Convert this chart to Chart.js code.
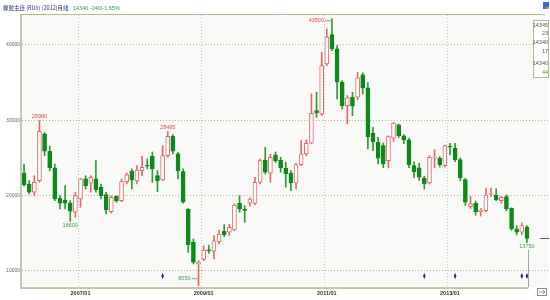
<!DOCTYPE html>
<html>
<head>
<meta charset="utf-8">
<script src="https://cdn.jsdelivr.net/npm/chart.js@4.4.1/dist/chart.umd.min.js"></script>
<style>
  html, body { margin: 0; padding: 0; background: #fff; }
  canvas { display: block; }
</style>
</head>
<body>
<canvas id="kChart" width="550" height="300"></canvas>
<script>
// monthly bars, 2006/02 .. 2014/04
const months = [];
let yy = 2006, mm = 2;
while (months.length < 99) {
    months.push(yy + '/' + (mm < 10 ? '0' : '') + mm);
    mm++;
    if (mm > 12) { mm = 1; yy++; }
}

const opens = [
    23000, 21550, 20450, 21990, 28200, 25900, 23700, 19650, 19430, 19000,
    17800, 19560, 22220, 21650, 22220, 21120, 20130, 17880, 19920, 19340,
    21860, 23280, 21950, 23320, 24000, 25210, 22650, 22090, 25310, 27890,
    25540, 23190, 18230, 13810, 10930, 11550, 12800, 12620, 13890, 15270,
    15140, 15445, 18990, 18150, 18990, 18990, 21780, 24740, 22980, 25400,
    24740, 23630, 22980, 21650, 24120, 25540, 26960, 31290, 30850, 37490,
    41380, 39480, 35060, 31950, 33070, 33070, 36030, 34300, 28290, 27090,
    26640, 24650, 27620, 29390, 27930, 27400, 23980, 23680, 22310, 21690,
    24970, 24970, 23980, 26560, 26290, 24780, 22120, 18540, 18990, 17880,
    18000, 20150, 20090, 19340, 19870, 18330, 15580, 15140, 15800
];
const highs = [
    24200, 22000, 22650, 29980, 28400, 26600, 24200, 20000, 21330, 19340,
    20450, 22310, 22650, 22650, 24650, 21550, 20450, 20000, 20000, 22220,
    23020, 23550, 23980, 25230, 24870, 25800, 23320, 26640, 28495, 28100,
    25760, 23550, 18300, 14250, 11370, 13360, 13430, 14690, 15440, 16150,
    16200, 18900, 20000, 18670, 19700, 22440, 24870, 26430, 25540, 25800,
    25100, 24430, 23320, 24300, 27300, 27400, 33500, 33730, 39040, 42140,
    43500, 39920, 35270, 33280, 33730, 36390, 36300, 35000, 29080, 27760,
    27000, 27950, 29700, 29500, 28100, 27600, 24500, 24300, 22600, 25300,
    26100, 25200, 26700, 26960, 26960, 25000, 22300, 19900, 19300, 18300,
    21000, 21000, 20900, 19900, 20100, 18400, 16000, 16400, 16020
];
const lows = [
    21250, 20230, 20000, 21780, 25300, 23300, 19340, 18230, 18230, 16600,
    17130, 18460, 20890, 20450, 20450, 19560, 17570, 17700, 19120, 19200,
    21550, 20890, 21550, 22650, 23550, 21780, 20530, 21990, 25100, 25540,
    22220, 19000, 12480, 10930, 8050, 11370, 12350, 11590, 13590, 14560,
    14700, 15350, 17800, 16470, 18650, 18800, 21550, 22880, 21780, 24400,
    23100, 21120, 20660, 20890, 23980, 25300, 26870, 30410, 30620, 37260,
    39260, 32840, 31510, 29520, 30620, 32710, 33500, 26200, 25980, 24210,
    23700, 23680, 27200, 27700, 26900, 23700, 22400, 22000, 20890, 21550,
    23700, 23800, 23800, 25400, 24500, 22000, 18700, 18300, 17400, 17300,
    17800, 19900, 19330, 19000, 18000, 15400, 14800, 14800, 13750
];
const closes = [
    21450, 20450, 21780, 28550, 25900, 23700, 19560, 19000, 19000, 17930,
    20000, 22220, 21330, 22440, 20800, 20000, 18100, 19790, 19300, 21860,
    22750, 22090, 23410, 23770, 23900, 23580, 21990, 25310, 27890, 25900,
    23320, 19120, 13490, 11160, 11160, 12790, 12650, 14020, 14910, 14820,
    15800, 18765, 18230, 18050, 19560, 21780, 24650, 23110, 25100, 24650,
    23680, 22880, 21690, 24120, 25540, 26960, 30940, 30980, 37260, 41040,
    39480, 35060, 31950, 32980, 31870, 35630, 34300, 27840, 27170, 24970,
    24210, 27840, 29620, 27970, 27400, 24120, 23190, 22440, 21550, 25100,
    25050, 24120, 26640, 26430, 24780, 22350, 19120, 18900, 17880, 18100,
    20090, 20230, 19470, 19790, 18230, 15580, 15140, 16020, 14340
];

const yTicks = [10000, 20000, 30000, 40000];
const janIdx = [11, 35, 59, 83];          // 2007/01, 2009/01, 2011/01, 2013/01
const peakIdx = [3, 28, 60];
const troughIdx = [9, 34, 98];
const eventIdx = [27, 78, 84, 97, 98];

const titleText = '橡胶主连 (RU0) (2012)月线';
const quoteText = '14340 -240/-1.65%';
const sideBox = [['14345', '#555'], ['23', '#555'], ['14340', '#555'], ['17', '#555'], ['14340', '#555'], ['44', '#2e9e2e']];

const upColor = '#e36a6a';
const downColor = '#0b8a1a';
const isUp = i => closes[i] >= opens[i];

Chart.defaults.font.family = '"Liberation Sans", Arial, sans-serif';

// label placement around the extreme points
const labelPos = {
    3: { side: 'above' }, 28: { side: 'above' }, 60: { side: 'left', dy: 2 },
    9: { side: 'below' }, 34: { side: 'left', dy: -7 }, 98: { side: 'below' }
};

const deco = {
    id: 'deco',
    beforeDraw(chart) {
        const { ctx, chartArea: a } = chart;
        ctx.save();
        ctx.fillStyle = '#ffffff';
        ctx.fillRect(0, 0, chart.width, chart.height);
        ctx.fillStyle = '#f9f9f8';
        ctx.fillRect(a.left, a.top, a.right - a.left, a.bottom - a.top);
        ctx.restore();
    },
    beforeDatasetsDraw(chart) {
        const { ctx, chartArea: a, scales: { x } } = chart;
        ctx.save();
        ctx.strokeStyle = '#c8c8c8';
        ctx.lineWidth = 1;
        ctx.setLineDash([1, 2]);
        janIdx.forEach(t => {
            const px = Math.round(x.getPixelForValue(t - 0.5)) + 0.5;
            ctx.beginPath();
            ctx.moveTo(px, a.top);
            ctx.lineTo(px, a.bottom);
            ctx.stroke();
        });
        ctx.restore();
    },
    afterDatasetsDraw(chart) {
        const { ctx, chartArea: a, scales: { x, y } } = chart;
        ctx.save();
        ctx.font = '5.5px "Liberation Sans", Arial, sans-serif';

        // high / low labels
        const drawLabel = (i, v, color) => {
            const px = x.getPixelForValue(i), py = y.getPixelForValue(v);
            const p = labelPos[i];
            ctx.fillStyle = color;
            ctx.strokeStyle = color;
            ctx.lineWidth = 0.7;
            if (p.side === 'above') {
                ctx.textAlign = 'center'; ctx.textBaseline = 'bottom';
                ctx.fillText(String(v), px, py - 1);
            } else if (p.side === 'below') {
                ctx.textAlign = 'center'; ctx.textBaseline = 'top';
                ctx.fillText(String(v), px, py + 1);
            } else {
                const ty = py + (p.dy || 0);
                ctx.textAlign = 'right'; ctx.textBaseline = 'middle';
                ctx.fillText(String(v), px - 8, ty);
                ctx.beginPath();
                ctx.moveTo(px - 7, ty);
                ctx.lineTo(px - 1, ty);
                ctx.stroke();
            }
        };
        peakIdx.forEach(i => drawLabel(i, highs[i], '#e04848'));
        troughIdx.forEach(i => drawLabel(i, lows[i], '#3aa04a'));

        // event markers along the bottom
        ctx.fillStyle = '#1c2a6e';
        eventIdx.forEach(i => {
            const px = x.getPixelForValue(i), py = a.bottom - 11;
            ctx.beginPath();
            ctx.moveTo(px, py - 3);
            ctx.lineTo(px + 1.3, py);
            ctx.lineTo(px, py + 3);
            ctx.lineTo(px - 1.3, py);
            ctx.closePath();
            ctx.fill();
        });

        // cursor line under the last bar and last-price tick on the right
        const last = closes.length - 1;
        const lx = Math.round(x.getPixelForValue(last)) + 1.5;
        ctx.strokeStyle = '#9ea3bb';
        ctx.lineWidth = 1;
        ctx.beginPath();
        ctx.moveTo(lx, y.getPixelForValue(lows[last]) + 7);
        ctx.lineTo(lx, a.bottom);
        ctx.stroke();
        ctx.strokeStyle = '#555a70';
        const ly = Math.round(y.getPixelForValue(closes[last])) + 0.5;
        ctx.beginPath();
        ctx.moveTo(540, ly);
        ctx.lineTo(549, ly);
        ctx.stroke();

        // frame
        ctx.strokeStyle = '#c6c6a4';
        ctx.lineWidth = 2;
        ctx.beginPath();
        ctx.moveTo(a.left - 1, a.top);
        ctx.lineTo(a.left - 1, a.bottom + 1);
        ctx.lineTo(lx, a.bottom + 1);
        ctx.stroke();
        ctx.lineWidth = 1;
        ctx.strokeStyle = '#b8b890';
        ctx.beginPath();
        ctx.moveTo(a.left - 2, a.top - 0.5);
        ctx.lineTo(545, a.top - 0.5);
        ctx.stroke();

        // right info box
        ctx.fillStyle = '#ffffff';
        ctx.fillRect(533, 20, 16, 58);
        ctx.strokeStyle = '#b8b890';
        ctx.strokeRect(533.5, 20.5, 15, 57);
        ctx.textAlign = 'right';
        ctx.textBaseline = 'middle';
        const boxY = [25, 33, 42, 51, 63, 72];
        sideBox.forEach(([t, c], k) => {
            ctx.fillStyle = c;
            ctx.fillText(t, 548, boxY[k]);
        });

        // title + quote
        ctx.textAlign = 'left';
        ctx.font = '5.5px "Noto Sans CJK SC", sans-serif';
        ctx.fillStyle = '#1f2d7a';
        ctx.fillText(titleText, 3, 8);
        ctx.font = '5.5px "Liberation Sans", Arial, sans-serif';
        ctx.fillStyle = '#3a9a3a';
        ctx.fillText(quoteText, 73, 8);

        // corner icons
        ctx.fillStyle = '#2f6fd0';
        ctx.fillRect(543, 2, 6, 7);
        ctx.fillStyle = '#e08a30';
        ctx.fillRect(546, 7, 3, 2);
        ctx.strokeStyle = '#8a8a8a';
        ctx.strokeRect(537.5, 288.5, 9, 7);
        ctx.beginPath();
        ctx.moveTo(539, 292); ctx.lineTo(545, 292);
        ctx.moveTo(543, 290); ctx.lineTo(545, 292); ctx.lineTo(543, 294);
        ctx.stroke();
        ctx.restore();
    }
};

const ctx = document.getElementById('kChart').getContext('2d');
new Chart(ctx, {
    type: 'bar',
    data: {
        datasets: [{
            label: 'body',
            order: 1,
            data: months.map((_, i) => ({ x: i, y: [opens[i], closes[i]] })),
            backgroundColor: c => isUp(c.dataIndex) ? '#ffffff' : downColor,
            borderColor: c => isUp(c.dataIndex) ? upColor : downColor,
            borderWidth: 1,
            borderSkipped: false,
            barThickness: 4,
            minBarLength: 1,
            grouped: false
        }, {
            label: 'wick',
            order: 2,
            data: months.map((_, i) => ({ x: i, y: [lows[i], highs[i]] })),
            backgroundColor: c => isUp(c.dataIndex) ? upColor : '#2e9a36',
            borderWidth: 0,
            barThickness: 1,
            grouped: false
        }]
    },
    options: {
        responsive: false,
        animation: false,
        layout: { padding: { top: 15, right: 2, left: 0, bottom: 0 } },
        plugins: {
            legend: { display: false },
            tooltip: { enabled: false }
        },
        scales: {
            x: {
                type: 'linear',
                offset: false,
                min: -0.4,
                max: 102.1,
                grid: { display: false, drawTicks: false },
                border: { display: false },
                afterBuildTicks: s => { s.ticks = janIdx.map(v => ({ value: v })); },
                afterFit: s => { s.height = 13; },
                ticks: {
                    autoSkip: false,
                    maxRotation: 0,
                    padding: 3,
                    color: '#333',
                    font: { size: 5.5, weight: 'bold' },
                    callback: v => months[v]
                }
            },
            y: {
                min: 7876,
                max: 43982,
                grid: { color: '#b6b68e', drawTicks: false, lineWidth: 1 },
                border: { display: false, dash: [1, 2] },
                afterBuildTicks: s => { s.ticks = yTicks.map(v => ({ value: v })); },
                afterFit: s => { s.width = 22; },
                ticks: {
                    padding: 2,
                    color: '#666',
                    font: { size: 5 },
                    callback: v => String(v)
                }
            }
        }
    },
    plugins: [deco]
});
</script>
</body>
</html>
